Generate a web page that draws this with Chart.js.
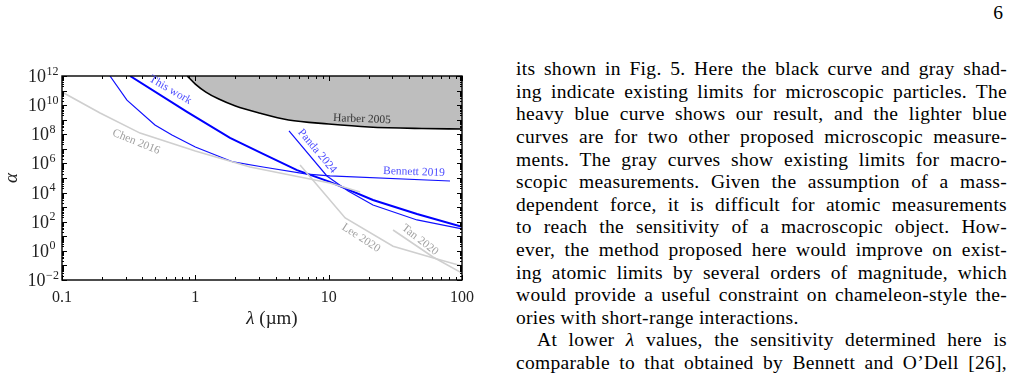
<!DOCTYPE html>
<html>
<head>
<meta charset="utf-8">
<script src="https://cdn.jsdelivr.net/npm/chart.js@4"></script>
<style>
  html, body { margin: 0; padding: 0; background: #fff; }
  body { width: 1012px; height: 373px; position: relative; overflow: hidden; font-family: 'Liberation Serif', serif; color: #000; }
  #plot { position: absolute; left: 0; top: 0; width: 480px; height: 340px; }
  #page { position: absolute; right: 9px; top: 2px; font-size: 19.5px; line-height: 22.6px; }
  #text { position: absolute; left: 516px; top: 58.3px; width: 491px; font-size: 19.5px; line-height: 22.6px; letter-spacing: 0.3px; }
  #text div { text-align: justify; text-align-last: justify; white-space: nowrap; }
  #text div.last { text-align-last: left; }
  #text div.indent { text-indent: 21px; }
</style>
</head>
<body>
<div id="plot"><canvas id="chart"></canvas></div>
<div id="page">6</div>
<div id="text">
  <div>its shown in Fig. 5. Here the black curve and gray shad-</div>
  <div>ing indicate existing limits for microscopic particles. The</div>
  <div>heavy blue curve shows our result, and the lighter blue</div>
  <div>curves are for two other proposed microscopic measure-</div>
  <div>ments. The gray curves show existing limits for macro-</div>
  <div>scopic measurements. Given the assumption of a mass-</div>
  <div>dependent force, it is difficult for atomic measurements</div>
  <div>to reach the sensitivity of a macroscopic object. How-</div>
  <div>ever, the method proposed here would improve on exist-</div>
  <div>ing atomic limits by several orders of magnitude, which</div>
  <div>would provide a useful constraint on chameleon-style the-</div>
  <div class="last">ories with short-range interactions.</div>
  <div class="indent">At lower <i>λ</i> values, the sensitivity determined here is</div>
  <div>comparable to that obtained by Bennett and O’Dell [26],</div>
</div>
<script>
// lambda in micrometres, alpha dimensionless
const harberLam   = [0.87, 1.0, 1.2, 1.5, 2.0, 3.0, 5.0, 10, 20, 50, 100];
const harberAlpha = [1e12, 2.8e11, 7.9e10, 2.6e10, 8.7e9, 2.9e9, 9.5e8, 5.1e8, 3.2e8, 2.5e8, 2.3e8];

const thisWorkLam   = [0.324, 0.866, 1.82, 3.22, 5.79, 10.2, 21.5, 46, 100];
const thisWorkAlpha = [1e12, 3.4e9, 5.6e7, 4.5e6, 3.5e5, 5.4e4, 3.1e3, 340, 44];

const bennettLam   = [0.229, 0.307, 0.498, 0.668, 1.0, 1.92, 3.22, 6.88, 10.2, 81.3];
const bennettAlpha = [1e12, 2.2e10, 4.4e8, 8.9e7, 1.35e7, 1.26e6, 5.7e5, 1.86e5, 1.38e5, 6.2e4];

const pandaLam   = [5.04, 9.7, 14.0, 21.5, 46, 100];
const pandaAlpha = [1.7e8, 1.38e5, 1.29e4, 1.4e3, 132, 32];

const chenLam   = [0.1, 0.193, 0.385, 1.0, 2.57, 10.2, 17.2];
const chenAlpha = [8e10, 2.9e9, 1.2e8, 7.1e6, 5.7e5, 4.6e4, 1.1e4];

const leeLam   = [6.1, 13.3, 30.4, 57.5, 100];
const leeAlpha = [7.8e5, 180, 2.1, 0.38, 0.091];

const tanLam   = [30.4, 60.6, 100];
const tanAlpha = [27, 0.38, 0.030];

const xTickValues = [0.1, 1, 10, 100];
const xTickLabels = ['0.1', '1', '10', '100'];
const yTickExps = [-2, 0, 2, 4, 6, 8, 10, 12];

const curveLabels = [
  { text: 'This work',   lam: 0.65,  alpha: 1.1e11, angle: 30, color: '#4f4fff' },
  { text: 'Chen 2016',   lam: 0.36,  alpha: 3.0e7,  angle: 22, color: '#a0a0a0' },
  { text: 'Harber 2005', lam: 17.8,  alpha: 1.1e9,  angle: 2,  color: '#333333' },
  { text: 'Panda 2024',  lam: 8.2,   alpha: 7.0e6,  angle: 50, color: '#4f4fff' },
  { text: 'Bennett 2019',lam: 43.6,  alpha: 2.6e5,  angle: 2,  color: '#4f4fff' },
  { text: 'Lee 2020',    lam: 17.5,  alpha: 7.6,    angle: 33, color: '#a0a0a0' },
  { text: 'Tan 2020',    lam: 48.4,  alpha: 5.6,    angle: 38, color: '#a0a0a0' }
];

const pts = (xs, ys) => xs.map((v, i) => ({ x: v, y: ys[i] }));
const FONT = "'Liberation Serif', serif";

const decorations = {
  id: 'decorations',
  afterDraw(chart) {
    const { ctx, chartArea: a, scales: { x, y } } = chart;
    ctx.save();
    ctx.strokeStyle = '#000';

    // ticks point inward on all four sides
    ctx.lineWidth = 1;
    ctx.beginPath();
    for (let e = -1; e <= 2; e++) {
      for (let m = 1; m <= 9; m++) {
        const v = m * Math.pow(10, e);
        if (v > 100) break;
        const px = Math.round(x.getPixelForValue(v)) + 0.5;
        const len = m === 1 ? 5 : 3;
        ctx.moveTo(px, a.bottom); ctx.lineTo(px, a.bottom - len);
        ctx.moveTo(px, a.top); ctx.lineTo(px, a.top + len);
      }
    }
    for (let e = -2; e <= 12; e++) {
      for (let m = 1; m <= 9; m++) {
        const v = m * Math.pow(10, e);
        if (v > 1e12) break;
        const py = Math.round(y.getPixelForValue(v)) + 0.5;
        const len = m === 1 ? 5 : 2;
        ctx.moveTo(a.left, py); ctx.lineTo(a.left + len, py);
        ctx.moveTo(a.right, py); ctx.lineTo(a.right - len, py);
      }
    }
    ctx.stroke();

    // frame
    ctx.lineWidth = 1.4;
    ctx.strokeRect(a.left, a.top, a.right - a.left, a.bottom - a.top);

    // x tick labels
    ctx.fillStyle = '#222';
    ctx.font = '16px ' + FONT;
    ctx.textAlign = 'center';
    ctx.textBaseline = 'alphabetic';
    xTickValues.forEach((v, i) => {
      ctx.fillText(xTickLabels[i], x.getPixelForValue(v), a.bottom + 22);
    });

    // y tick labels: 10^k
    yTickExps.forEach(k => {
      const py = y.getPixelForValue(Math.pow(10, k));
      const base = '10';
      const exp = k < 0 ? '\u2212' + (-k) : String(k);
      ctx.font = '18px ' + FONT;
      const wb = ctx.measureText(base).width;
      ctx.font = '12px ' + FONT;
      const we = ctx.measureText(exp).width;
      const left = 43 - (wb + we) / 2;
      ctx.textAlign = 'left';
      ctx.font = '18px ' + FONT;
      ctx.fillText(base, left, py + 6);
      ctx.font = '12px ' + FONT;
      ctx.fillText(exp, left + wb + 0.5, py - 1.5);
    });

    // axis titles
    ctx.font = 'italic 19px ' + FONT;
    const title = ' (\u00b5m)';
    const wl = ctx.measureText('\u03bb').width;
    ctx.font = '19px ' + FONT;
    const wt = ctx.measureText(title).width;
    const cx = (a.left + a.right) / 2 + 10;
    const start = cx - (wl + wt) / 2;
    ctx.textAlign = 'left';
    ctx.font = 'italic 19px ' + FONT;
    ctx.fillText('\u03bb', start, 324);
    ctx.font = '19px ' + FONT;
    ctx.fillText(title, start + wl, 324);

    ctx.save();
    ctx.translate(17, (a.top + a.bottom) / 2);
    ctx.rotate(-Math.PI / 2);
    ctx.textAlign = 'center';
    ctx.font = 'italic 19px ' + FONT;
    ctx.fillText('\u03b1', 0, 0);
    ctx.restore();

    // curve labels
    ctx.font = '11.5px ' + FONT;
    ctx.textAlign = 'center';
    ctx.textBaseline = 'middle';
    curveLabels.forEach(l => {
      ctx.save();
      ctx.translate(x.getPixelForValue(l.lam), y.getPixelForValue(l.alpha));
      ctx.rotate(l.angle * Math.PI / 180);
      ctx.fillStyle = l.color;
      ctx.fillText(l.text, 0, 0);
      ctx.restore();
    });
    ctx.restore();
  }
};

const line = (data, color, width, extra) => Object.assign({
  data, borderColor: color, borderWidth: width, pointRadius: 0, fill: false, tension: 0
}, extra || {});

new Chart(document.getElementById('chart'), {
  type: 'line',
  data: {
    datasets: [
      line(pts(harberLam, harberAlpha), '#000', 1.6, { fill: 'end', backgroundColor: '#bebebe', cubicInterpolationMode: 'monotone' }),
      line(pts(chenLam, chenAlpha), '#cfcfcf', 1.6),
      line(pts(leeLam, leeAlpha), '#cfcfcf', 1.6),
      line(pts(tanLam, tanAlpha), '#cfcfcf', 1.6),
      line(pts(bennettLam, bennettAlpha), '#1010ff', 1.2),
      line(pts(pandaLam, pandaAlpha), '#1010ff', 1.2),
      line(pts(thisWorkLam, thisWorkAlpha), '#0000ff', 2)
    ]
  },
  options: {
    responsive: true,
    maintainAspectRatio: false,
    animation: false,
    layout: { padding: { left: 62, top: 76, right: 18, bottom: 60 } },
    scales: {
      x: { type: 'logarithmic', min: 0.1, max: 100, display: false },
      y: { type: 'logarithmic', min: 1e-2, max: 1e12, display: false }
    },
    plugins: { legend: { display: false }, tooltip: { enabled: false } }
  },
  plugins: [decorations]
});
</script>
</body>
</html>
